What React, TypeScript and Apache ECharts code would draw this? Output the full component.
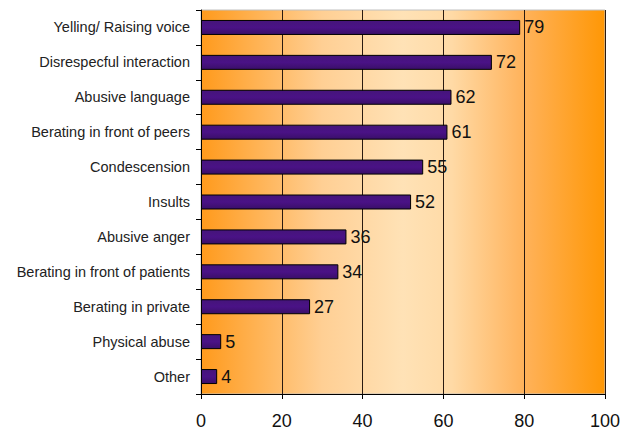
import React, { useEffect, useRef } from "react";
import * as echarts from "echarts";

// Behaviours reported, listed top to bottom
const categories = [
  "Yelling/ Raising voice",
  "Disrespecful interaction",
  "Abusive language",
  "Berating in front of peers",
  "Condescension",
  "Insults",
  "Abusive anger",
  "Berating in front of patients",
  "Berating in private",
  "Physical abuse",
  "Other",
];
const values = [79, 72, 62, 61, 55, 52, 36, 34, 27, 5, 4];
const xTicks = [0, 20, 40, 60, 80, 100];

export default function App() {
  const ref = useRef<HTMLDivElement>(null);

  useEffect(() => {
    if (!ref.current) return;
    const chart = echarts.init(ref.current, null, { renderer: "svg" });
    const font = "'Liberation Sans', Arial, sans-serif";

    chart.setOption({
      animation: false,
      grid: {
        left: 201,
        top: 10,
        width: 404,
        height: 384,
        outerBoundsMode: "none",
        show: true,
        borderColor: "#c0c0c0",
        borderWidth: 1,
        backgroundColor: new echarts.graphic.LinearGradient(0, 0, 1, 0, [
          { offset: 0, color: "#ff9a1c" },
          { offset: 0.3, color: "#ffcf94" },
          { offset: 0.5, color: "#ffe2b6" },
          { offset: 0.62, color: "#ffdaa6" },
          { offset: 0.8, color: "#ffb25a" },
          { offset: 1, color: "#ff9705" },
        ]),
      },
      xAxis: {
        type: "value",
        min: xTicks[0],
        max: xTicks[xTicks.length - 1],
        interval: 20,
        axisLine: { show: true, lineStyle: { color: "#000", width: 1 } },
        axisTick: { show: true, length: 5, lineStyle: { color: "#000" } },
        axisLabel: {
          color: "#111",
          fontSize: 18,
          lineHeight: 18,
          fontFamily: font,
          margin: 18,
        },
        splitLine: { show: true, lineStyle: { color: "#2a1a10", width: 1 } },
      },
      yAxis: {
        type: "category",
        inverse: true,
        data: categories,
        axisLine: { show: true, lineStyle: { color: "#000", width: 1 } },
        axisTick: { show: true, length: 5, lineStyle: { color: "#000" } },
        axisLabel: {
          color: "#222",
          fontSize: 14.5,
          fontFamily: font,
          margin: 11,
        },
      },
      series: [
        {
          type: "bar",
          data: values,
          barWidth: 15,
          itemStyle: {
            color: new echarts.graphic.LinearGradient(0, 0, 0, 1, [
              { offset: 0, color: "#45157a" },
              { offset: 0.5, color: "#4a1286" },
              { offset: 1, color: "#3a0f68" },
            ]),
            borderColor: "#000",
            borderWidth: 1,
          },
          label: {
            show: true,
            position: "right",
            distance: 4,
            color: "#111",
            fontSize: 18,
            fontFamily: font,
          },
        },
      ],
    });

    return () => chart.dispose();
  }, []);

  // Page body keeps its default 8px margin; pin the chart to the window's corner
  return (
    <div
      ref={ref}
      style={{ position: "absolute", left: 0, top: 0, width: 633, height: 431 }}
    />
  );
}
